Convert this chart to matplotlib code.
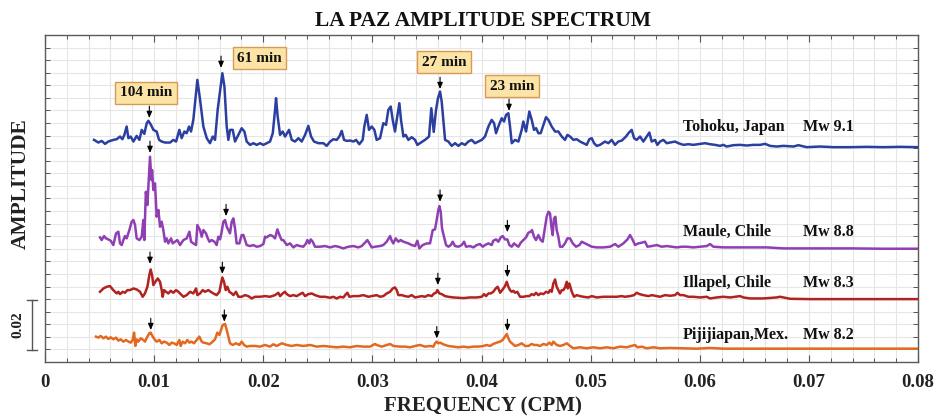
import numpy as np
import matplotlib
matplotlib.use("Agg")
import matplotlib.pyplot as plt
from matplotlib.transforms import blended_transform_factory

plt.rcParams['font.family'] = ['Liberation Serif', 'DejaVu Serif']
plt.rcParams['font.weight'] = 'bold'

# ---------------- data (frequency in units of 0.001 CPM, amplitude in units of 0.001) -------------
tohoku_freq = [4.49, 4.89, 5.19, 5.50, 5.80, 6.26, 6.57, 6.87, 7.09, 7.27, 7.48, 7.64, 7.85, 8.10, 8.40, 8.65, 8.86, 9.10, 9.32, 9.47, 9.71, 9.93, 10.23, 10.45, 10.69, 11.00, 11.46, 11.76, 12.01, 12.31, 12.52, 12.77, 12.98, 13.20, 13.38, 13.59, 13.84, 13.96, 14.21, 14.51, 14.82, 15.12, 15.37, 15.58, 15.82, 16.13, 16.25, 16.44, 16.65, 16.80, 16.96, 17.20, 17.41, 17.72, 18.02, 18.27, 18.48, 18.79, 19.09, 19.40, 19.70, 20.01, 20.32, 20.62, 20.87, 21.08, 21.17, 21.32, 21.54, 21.78, 22.00, 22.36, 22.61, 22.91, 23.22, 23.52, 23.83, 24.13, 24.38, 24.65, 25.05, 25.51, 25.81, 26.12, 26.42, 26.73, 26.97, 27.19, 27.40, 27.64, 27.95, 28.26, 28.50, 28.80, 29.11, 29.26, 29.48, 29.69, 29.94, 30.18, 30.39, 30.70, 31.00, 31.25, 31.46, 31.68, 31.86, 32.07, 32.23, 32.47, 32.62, 32.84, 33.05, 33.30, 33.60, 33.91, 34.12, 34.36, 34.82, 35.19, 35.40, 35.62, 35.83, 36.01, 36.20, 36.35, 36.50, 36.66, 36.96, 37.27, 37.57, 37.88, 38.18, 38.49, 38.79, 39.10, 39.40, 39.71, 40.02, 40.32, 40.63, 40.93, 41.15, 41.33, 41.54, 41.85, 42.06, 42.25, 42.46, 42.61, 42.77, 43.07, 43.38, 43.68, 43.83, 44.08, 44.38, 44.60, 44.81, 45.00, 45.21, 45.42, 45.67, 45.91, 46.13, 46.43, 46.74, 47.04, 47.35, 47.65, 47.87, 48.11, 48.42, 48.72, 49.03, 49.33, 49.64, 49.88, 50.10, 50.31, 50.56, 50.86, 51.32, 51.62, 51.93, 52.23, 52.54, 52.85, 53.24, 53.46, 53.76, 53.98, 54.22, 54.53, 54.83, 55.14, 55.38, 55.59, 55.90, 56.11, 56.36, 56.66, 56.97, 57.27, 57.73, 58.04, 58.50, 58.95, 59.41, 60.02, 60.48, 60.94, 61.40, 61.86, 62.16, 62.47, 63.08, 63.69, 64.30, 64.91, 65.52, 65.98, 66.44, 67.05, 67.66, 68.58, 69.04, 69.80, 71.02, 72.24, 73.77, 75.30, 76.82, 78.35, 80.00]
tohoku_amp = [2.90, 1.84, 2.50, 1.31, 2.24, 2.90, 3.17, 4.23, 3.17, 4.89, 8.20, 3.57, 4.23, 2.24, 4.49, 2.90, 6.88, 5.29, 9.53, 10.46, 8.87, 6.88, 6.22, 2.90, 2.24, 1.84, 1.84, 2.90, 2.24, 6.88, 3.57, 6.22, 5.55, 8.20, 6.22, 10.85, 21.46, 26.76, 18.81, 8.20, 3.57, 1.58, 4.23, 2.90, 14.83, 25.43, 29.41, 24.11, 8.20, 2.90, 6.88, 6.88, 2.24, 4.89, 7.54, 6.22, 2.24, 0.91, 1.58, 0.91, 1.58, 0.91, 1.58, 2.24, 5.55, 14.83, 19.47, 12.18, 4.89, 6.22, 4.23, 6.88, 2.90, 2.24, 3.57, 2.24, 4.89, 8.47, 4.23, 2.24, 1.58, 1.58, 0.52, 2.20, 3.17, 2.90, 4.23, 6.48, 2.90, 2.50, 2.64, 2.24, 2.90, 1.18, 2.90, 8.20, 12.84, 6.88, 8.20, 6.88, 2.90, 3.57, 9.53, 8.87, 14.83, 16.16, 10.85, 6.22, 10.85, 17.48, 10.85, 4.23, 4.89, 2.90, 3.96, 2.90, 0.91, 1.58, 2.90, 4.23, 15.49, 6.08, 14.83, 19.47, 22.12, 18.14, 10.85, 2.90, 2.24, 0.52, 1.58, 0.52, 1.58, 0.91, 2.24, 2.90, 1.58, 2.24, 2.90, 4.23, 8.20, 10.85, 9.53, 5.55, 8.20, 11.52, 10.19, 12.84, 13.50, 8.20, 1.58, 2.90, 2.24, 6.88, 10.19, 6.22, 14.17, 10.85, 6.88, 7.54, 5.55, 5.55, 8.87, 11.92, 10.85, 8.20, 6.22, 6.22, 4.23, 2.90, 4.89, 4.23, 2.91, 3.17, 2.24, 1.58, 0.92, 3.17, 3.57, 1.58, 0.52, 0.92, 2.24, 1.58, 2.90, 0.92, 2.24, 2.64, 4.23, 5.56, 6.88, 3.57, 2.90, 4.23, 2.24, 4.23, 5.82, 2.24, 2.90, 0.92, 2.24, 2.90, 1.58, 1.85, 2.24, 1.58, 0.92, 1.18, 0.92, 1.32, 1.58, 1.18, 0.92, 0.52, 0.92, 0.26, 0.79, 0.92, 0.66, 0.92, 0.92, 1.32, 0.52, 0.26, 0.52, 0.26, 0.79, 0.00, 0.26, 0.00, 0.00, 0.13, 0.00, 0.13, 0.00]

maule_freq = [5.04, 5.19, 5.41, 5.59, 5.80, 6.02, 6.26, 6.51, 6.72, 6.87, 7.03, 7.18, 7.33, 7.48, 7.73, 7.94, 8.10, 8.25, 8.40, 8.65, 8.86, 9.01, 9.10, 9.24, 9.38, 9.50, 9.62, 9.75, 9.81, 9.93, 10.08, 10.23, 10.39, 10.54, 10.69, 10.84, 11.00, 11.15, 11.30, 11.55, 11.70, 11.91, 12.13, 12.37, 12.68, 12.98, 13.23, 13.38, 13.59, 13.84, 13.96, 14.20, 14.36, 14.51, 14.75, 14.88, 15.06, 15.27, 15.52, 15.73, 15.88, 16.04, 16.19, 16.34, 16.50, 16.65, 16.80, 16.95, 17.11, 17.26, 17.41, 17.56, 17.81, 18.02, 18.18, 18.33, 18.48, 18.79, 19.09, 19.40, 19.70, 20.01, 20.16, 20.31, 20.62, 20.86, 21.08, 21.29, 21.54, 21.69, 21.84, 22.15, 22.45, 22.76, 23.06, 23.37, 23.67, 23.92, 24.04, 24.22, 24.35, 24.53, 24.74, 25.20, 25.66, 26.12, 26.58, 26.88, 27.34, 27.80, 28.26, 28.71, 29.02, 29.32, 29.54, 29.72, 29.94, 30.24, 30.70, 31.00, 31.31, 31.62, 31.77, 31.92, 32.13, 32.38, 32.59, 32.84, 33.30, 33.60, 33.91, 34.12, 34.30, 34.61, 34.98, 35.28, 35.53, 35.74, 35.89, 36.04, 36.14, 36.26, 36.38, 36.56, 36.75, 36.96, 37.18, 37.36, 37.57, 37.88, 38.18, 38.40, 38.58, 38.95, 39.25, 39.56, 39.86, 40.11, 40.32, 40.63, 40.93, 41.08, 41.33, 41.54, 41.76, 41.94, 42.15, 42.37, 42.55, 42.77, 42.98, 43.16, 43.38, 43.59, 43.83, 44.08, 44.29, 44.51, 44.63, 44.81, 44.99, 45.21, 45.42, 45.61, 45.82, 45.97, 46.13, 46.28, 46.40, 46.52, 46.64, 46.77, 46.89, 47.04, 47.19, 47.41, 47.65, 47.87, 48.11, 48.36, 48.66, 48.97, 49.18, 49.49, 49.79, 50.10, 50.56, 51.17, 51.78, 52.24, 52.54, 53.00, 53.37, 53.61, 53.86, 54.07, 54.37, 54.68, 54.99, 55.20, 55.60, 56.06, 56.51, 56.97, 57.43, 57.89, 58.35, 58.80, 59.41, 60.03, 60.64, 60.94, 61.25, 62.16, 63.39, 64.61, 66.14, 67.66, 69.50, 71.33, 73.77, 76.83, 80.00]
maule_amp = [4.64, 3.58, 5.17, 4.24, 3.84, 3.31, 1.59, 6.23, 6.89, 2.25, 1.59, 3.58, 5.17, 4.24, 7.55, 10.87, 11.53, 9.54, 4.24, 3.58, 4.90, 11.53, 3.58, 22.79, 17.49, 26.77, 36.71, 27.43, 31.41, 23.46, 26.11, 12.85, 15.51, 8.88, 10.87, 7.55, 2.92, 4.24, 2.25, 4.24, 2.25, 2.92, 3.58, 1.59, 3.58, 4.24, 6.89, 2.92, 2.25, 1.59, 9.54, 7.55, 4.90, 7.55, 6.23, 4.64, 2.92, 3.58, 2.92, 1.59, 4.90, 3.84, 6.89, 10.87, 11.53, 8.88, 7.55, 6.23, 10.87, 12.19, 8.22, 2.25, 2.25, 5.57, 5.57, 3.58, 1.59, 1.19, 1.59, 0.93, 1.19, 1.99, 4.90, 4.64, 5.57, 5.17, 4.24, 7.82, 4.90, 3.58, 3.58, 1.59, 2.25, 0.66, 1.59, 1.19, 0.93, 2.25, 3.58, 2.25, 3.84, 2.92, 0.93, 0.93, 1.19, 0.66, 1.19, 0.93, 0.26, 0.93, 1.19, 0.66, 1.19, 2.52, 3.58, 2.25, 0.66, 0.93, 1.19, 1.59, 2.92, 5.17, 3.31, 2.25, 4.24, 2.92, 3.58, 2.92, 2.25, 1.59, 1.19, 3.31, 0.26, 1.59, 2.25, 2.25, 7.55, 7.82, 11.53, 15.50, 17.10, 14.84, 8.22, 4.90, 1.59, 0.93, 1.59, 2.92, 1.19, 0.93, 1.59, 2.92, 0.93, 1.19, 0.66, 1.59, 1.99, 0.93, 1.59, 2.25, 1.59, 3.31, 3.84, 2.92, 4.64, 5.17, 3.84, 3.84, 1.59, 0.93, 2.25, 1.59, 0.93, 2.52, 3.58, 4.64, 6.49, 6.89, 7.55, 4.90, 3.58, 5.57, 3.58, 2.92, 8.88, 12.85, 14.84, 14.18, 8.88, 5.57, 12.19, 12.85, 7.55, 4.90, 0.93, 0.93, 2.25, 4.24, 4.24, 2.25, 0.93, 1.59, 2.92, 2.25, 1.59, 0.93, 0.66, 0.66, 0.93, 1.99, 0.93, 2.25, 3.84, 5.57, 3.58, 1.59, 2.25, 2.52, 2.92, 0.93, 1.19, 1.59, 0.93, 1.19, 0.93, 0.66, 0.93, 0.93, 0.66, 0.93, 1.19, 1.99, 0.93, 0.66, 0.66, 0.66, 0.66, 0.26, 0.26, 0.26, 0.26, 0.13, 0.13]

illapel_freq = [5.04, 5.35, 5.65, 5.96, 6.20, 6.42, 6.57, 6.72, 6.87, 7.12, 7.33, 7.55, 7.79, 8.10, 8.40, 8.71, 8.95, 9.16, 9.38, 9.56, 9.68, 9.81, 9.93, 10.11, 10.33, 10.54, 10.69, 10.78, 10.91, 11.09, 11.30, 11.52, 11.76, 12.00, 12.22, 12.43, 12.68, 12.98, 13.29, 13.59, 13.84, 13.96, 14.20, 14.45, 14.66, 14.97, 15.18, 15.43, 15.73, 15.98, 16.13, 16.25, 16.40, 16.56, 16.71, 16.89, 17.11, 17.26, 17.50, 17.72, 18.02, 18.33, 18.63, 18.94, 19.24, 19.70, 20.16, 20.62, 21.08, 21.38, 21.54, 21.78, 21.99, 22.15, 22.45, 22.76, 23.06, 23.37, 23.61, 23.83, 24.13, 24.44, 24.74, 25.20, 25.66, 26.12, 26.42, 26.73, 27.03, 27.34, 27.58, 27.71, 27.89, 28.26, 28.71, 29.17, 29.63, 29.94, 30.39, 30.70, 31.00, 31.31, 31.62, 31.86, 32.07, 32.23, 32.38, 32.68, 32.99, 33.30, 33.60, 33.91, 34.21, 34.52, 34.82, 35.13, 35.43, 35.65, 35.83, 35.95, 36.14, 36.35, 36.66, 36.96, 37.42, 37.88, 38.34, 38.95, 39.56, 40.02, 40.23, 40.41, 40.63, 40.84, 41.08, 41.30, 41.48, 41.70, 41.94, 42.15, 42.31, 42.46, 42.61, 42.77, 42.92, 43.07, 43.28, 43.53, 43.83, 44.14, 44.38, 44.60, 44.81, 44.99, 45.21, 45.42, 45.67, 45.91, 46.13, 46.28, 46.43, 46.58, 46.74, 46.89, 47.04, 47.19, 47.35, 47.50, 47.65, 47.81, 47.90, 48.05, 48.27, 48.48, 48.72, 49.03, 49.33, 49.79, 50.10, 50.56, 51.17, 51.78, 52.39, 52.85, 53.15, 53.61, 53.98, 54.22, 54.47, 54.83, 55.29, 55.60, 56.06, 56.36, 56.82, 57.28, 57.74, 57.95, 58.19, 58.50, 58.96, 59.41, 60.03, 60.64, 60.94, 61.55, 62.16, 62.78, 63.23, 63.69, 64.00, 64.61, 65.83, 67.05, 67.36, 68.27, 70.11, 71.94, 73.77, 76.83, 80.00]
illapel_amp = [2.91, 4.24, 4.90, 5.17, 3.84, 2.91, 2.25, 2.91, 1.99, 2.91, 2.52, 3.58, 3.58, 4.24, 3.84, 2.91, 0.93, 2.25, 4.90, 9.54, 11.79, 9.54, 5.57, 6.89, 8.22, 6.89, 3.58, 0.93, 3.58, 2.91, 2.25, 3.31, 2.52, 3.58, 2.91, 1.99, 0.93, 1.59, 2.91, 2.25, 4.24, 1.59, 2.25, 3.58, 2.91, 3.58, 2.91, 2.25, 1.59, 2.91, 6.23, 8.61, 6.89, 3.58, 4.90, 2.91, 2.25, 1.59, 2.91, 0.93, 0.93, 1.59, 1.19, 0.26, 0.93, 0.93, 1.19, 0.93, 1.59, 2.52, 1.19, 2.25, 2.91, 1.99, 1.19, 1.59, 1.19, 1.99, 2.52, 1.19, 1.99, 2.25, 1.59, 0.93, 0.93, 0.53, 0.93, 0.26, 0.93, 0.66, 1.99, 2.52, 0.93, 1.19, 1.19, 1.59, 0.93, 1.19, 1.59, 0.93, 1.19, 2.25, 2.91, 4.24, 4.64, 3.58, 1.59, 1.59, 1.19, 0.93, 1.59, 0.66, 0.93, 1.19, 0.93, 1.59, 1.19, 2.25, 2.52, 3.58, 2.25, 1.99, 1.19, 0.93, 0.66, 0.53, 0.40, 0.66, 0.66, 0.93, 1.99, 1.19, 2.25, 2.25, 2.91, 4.24, 4.90, 2.52, 3.84, 5.17, 6.89, 4.90, 3.58, 2.91, 3.31, 2.52, 2.91, 0.93, 0.93, 1.19, 1.19, 1.99, 1.59, 2.52, 1.59, 2.25, 1.99, 2.91, 2.52, 3.58, 2.91, 6.23, 7.82, 4.90, 3.58, 2.25, 3.58, 3.58, 4.64, 6.89, 4.24, 6.23, 2.92, 0.93, 1.59, 1.19, 0.93, 0.66, 1.19, 0.66, 0.93, 0.93, 0.93, 1.19, 0.93, 1.19, 1.59, 2.52, 1.99, 1.59, 1.19, 1.59, 1.19, 0.93, 1.59, 1.33, 1.59, 2.52, 1.59, 1.59, 0.93, 0.93, 0.66, 0.93, 0.27, 0.66, 0.93, 0.66, 0.93, 1.19, 0.66, 0.27, 0.27, 0.66, 0.93, 0.13, 0.00, 0.00, 0.00, 0.00, 0.00]

pij_freq = [4.67, 4.89, 5.10, 5.35, 5.59, 5.80, 6.02, 6.26, 6.51, 6.72, 6.93, 7.18, 7.42, 7.64, 7.85, 8.03, 8.16, 8.28, 8.40, 8.55, 8.77, 9.01, 9.16, 9.38, 9.56, 9.68, 9.87, 10.08, 10.23, 10.48, 10.69, 10.91, 11.15, 11.39, 11.61, 11.82, 12.07, 12.31, 12.43, 12.62, 12.83, 13.04, 13.23, 13.44, 13.65, 13.90, 14.14, 14.36, 14.51, 14.82, 15.06, 15.27, 15.58, 15.79, 15.98, 16.13, 16.28, 16.50, 16.65, 16.80, 16.95, 17.20, 17.50, 17.81, 18.02, 18.24, 18.48, 18.79, 19.25, 19.70, 20.16, 20.62, 20.92, 21.23, 21.69, 22.15, 22.60, 23.06, 23.67, 24.29, 24.90, 25.51, 26.12, 26.73, 27.34, 27.95, 28.56, 29.17, 29.78, 30.24, 30.39, 30.85, 31.31, 31.62, 31.92, 32.53, 32.99, 33.45, 33.91, 34.36, 34.82, 35.28, 35.59, 35.74, 35.89, 36.05, 36.20, 36.44, 36.66, 36.96, 37.42, 37.88, 38.34, 38.79, 39.25, 39.71, 40.17, 40.47, 40.78, 41.08, 41.39, 41.70, 41.94, 42.15, 42.31, 42.46, 42.61, 42.86, 43.07, 43.38, 43.68, 43.99, 44.29, 44.60, 44.81, 45.06, 45.36, 45.67, 45.97, 46.22, 46.43, 46.58, 46.74, 46.89, 47.19, 47.50, 47.81, 48.11, 48.42, 49.03, 49.64, 50.25, 50.86, 51.47, 52.08, 52.69, 53.31, 53.76, 54.07, 54.28, 54.68, 55.14, 55.75, 56.36, 57.28, 58.50, 59.72, 60.94, 62.16, 63.39, 64.61, 66.14, 67.66, 69.50, 71.33, 73.77, 76.83, 80.00]
pij_amp = [4.78, 4.39, 5.05, 4.12, 4.78, 3.86, 4.52, 3.72, 4.39, 3.19, 3.72, 2.80, 3.46, 2.80, 2.40, 3.46, 6.37, 1.07, 3.72, 2.80, 4.12, 3.46, 2.80, 4.78, 6.11, 6.37, 4.78, 3.46, 2.80, 3.46, 2.13, 2.80, 2.40, 1.47, 2.40, 2.13, 1.47, 3.46, 1.07, 2.80, 2.13, 3.46, 2.40, 2.80, 2.13, 3.46, 4.78, 2.80, 2.40, 2.13, 1.74, 2.40, 3.72, 6.37, 5.45, 7.43, 9.42, 9.82, 7.43, 4.78, 2.13, 1.47, 2.13, 1.47, 2.80, 1.47, 0.81, 1.07, 1.07, 0.81, 1.47, 0.81, 1.74, 1.07, 2.13, 1.47, 1.07, 1.47, 1.07, 1.47, 0.81, 1.07, 0.81, 0.54, 0.81, 0.54, 1.07, 0.81, 0.81, 1.87, 1.47, 0.81, 1.47, 1.87, 1.07, 0.81, 0.81, 0.54, 1.07, 1.47, 0.81, 1.07, 0.81, 2.13, 2.80, 2.13, 2.40, 1.87, 1.47, 1.07, 0.81, 0.54, 0.81, 0.54, 0.81, 0.81, 1.07, 1.47, 1.07, 1.87, 2.40, 2.80, 3.46, 4.78, 5.84, 4.12, 2.80, 1.87, 1.07, 1.47, 2.13, 1.07, 1.07, 1.87, 1.47, 1.47, 1.07, 1.87, 1.47, 2.40, 1.47, 2.80, 2.13, 1.47, 1.07, 1.47, 2.13, 1.07, 0.15, 0.55, 0.15, 0.55, 0.15, 0.55, 0.15, 0.81, 0.55, 1.07, 1.47, 0.55, 0.81, 0.15, 0.55, 0.15, 0.28, 0.15, 0.00, 0.28, 0.00, 0.00, 0.00, 0.00, 0.00, 0.00, 0.00, 0.00, 0.00, 0.00]

series_names = ['Tohoku, Japan', 'Maule, Chile', 'Illapel, Chile', 'Pijijiapan,Mex.']
series_mw = ['Mw 9.1', 'Mw 8.8', 'Mw 8.3', 'Mw 8.2']
series_offset = [0.0854, 0.0449, 0.0250, 0.0053]
series_colors = ['#2a3fa0', '#8f3fb3', '#b02320', '#e2691f']
label_y = [0.0934, 0.0516, 0.0313, 0.0107]

# marked periods (arrows) per series: frequency (CPM) and arrow tip level
arrow_freq = [[0.00956, 0.01613, 0.0362, 0.04252],
              [0.00962, 0.01659, 0.0362, 0.04237],
              [0.00962, 0.01625, 0.0360, 0.04237],
              [0.00969, 0.01643, 0.0359, 0.04237]]
arrow_tip = [[0.0970, 0.1169, 0.1085, 0.0998],
             [0.0831, 0.0580, 0.0637, 0.0516],
             [0.0390, 0.0350, 0.0306, 0.0337],
             [0.0127, 0.0160, 0.0094, 0.0123]]

period_labels = ['104 min', '61 min', '27 min', '23 min']
period_box_f = [0.00926, 0.01966, 0.03656, 0.0428]
period_box_y = [0.1070, 0.1207, 0.1191, 0.1097]

xtick_vals = [0, 0.01, 0.02, 0.03, 0.04, 0.05, 0.06, 0.07, 0.08]
xtick_labels = ['0', '0.01', '0.02', '0.03', '0.04', '0.05', '0.06', '0.07', '0.08']

freqs = [tohoku_freq, maule_freq, illapel_freq, pij_freq]
amps = [tohoku_amp, maule_amp, illapel_amp, pij_amp]
for f, a, n in zip(freqs, amps, series_names):
    assert len(f) == len(a), (n, len(f), len(a))

# ---------------- figure -------------
fig = plt.figure(figsize=(9.36, 4.17), dpi=100)
ax = fig.add_axes([0.0481, 0.1319, 0.9327, 0.7842])

for f, a, off, c in zip(freqs, amps, series_offset, series_colors):
    ax.plot(np.array(f) * 1e-3, np.array(a) * 1e-3 + off, color=c, lw=1.8,
            solid_joinstyle='round', zorder=3)

ax.set_xlim(0, 0.08)
ax.set_ylim(0, 0.13)
ax.set_xticks(xtick_vals)
ax.set_xticklabels(xtick_labels, fontsize=13.5, fontweight='bold', color='#222222')
ax.set_xticks(np.arange(0, 0.0801, 0.002), minor=True)
ax.set_yticks(np.arange(0, 0.1301, 0.005))
ax.set_yticklabels([])
ax.grid(which='both', axis='x', color='#e6e6e6', lw=0.8, zorder=0)
ax.grid(which='major', axis='y', color='#e6e6e6', lw=0.8, zorder=0)
ax.tick_params(axis='x', which='major', direction='in', length=5, width=0.8,
               color='#555555', top=True, pad=9)
ax.tick_params(axis='x', which='minor', direction='in', length=3, width=0.7,
               color='#555555', top=True)
ax.tick_params(axis='y', which='major', direction='in', length=3.5, width=0.7,
               color='#555555', right=True, left=True)
for s in ax.spines.values():
    s.set_color('#5a5a5a')
    s.set_linewidth(1.0)

# labels for each series
for name, mw, y in zip(series_names, series_mw, label_y):
    ax.text(0.05847, y, name, fontsize=11.5, fontweight='bold', ha='left', va='center',
            color='#111111', zorder=5)
    ax.text(0.06946, y, mw, fontsize=11.5, fontweight='bold', ha='left', va='center',
            color='#111111', zorder=5)

# arrows
for fl, tl in zip(arrow_freq, arrow_tip):
    for f, t in zip(fl, tl):
        ax.annotate('', xy=(f, t), xytext=(0, 8.5), textcoords='offset points',
                    arrowprops=dict(arrowstyle='-|>,head_length=0.38,head_width=0.16',
                                    color='black', lw=0.8, shrinkA=0, shrinkB=0),
                    zorder=6)

# period boxes
for lab, f, y in zip(period_labels, period_box_f, period_box_y):
    ax.text(f, y, lab, fontsize=11, fontweight='bold', ha='center', va='center',
            color='#111111', zorder=7,
            bbox=dict(boxstyle='square,pad=0.3', fc='#fbe4a6', ec='#d99a58', lw=1.0))

# scale bar
trans = blended_transform_factory(ax.transAxes, ax.transData)
sb_y0 = 0.0047
sb_len = 0.02
ax.plot([-0.0149, -0.0149], [sb_y0, sb_y0 + sb_len], color='#555555', lw=1.0,
        transform=trans, clip_on=False)
for yy in (sb_y0, sb_y0 + sb_len):
    ax.plot([-0.0203, -0.0095], [yy, yy], color='#555555', lw=1.0,
            transform=trans, clip_on=False)
ax.text(-0.0306, sb_y0 + sb_len / 2, '0.02', rotation=90, fontsize=11, fontweight='bold',
        ha='center', va='center', transform=trans, color='#222222')

# titles
fig.text(0.5155, 0.9504, 'LA PAZ AMPLITUDE SPECTRUM', fontsize=15.5, fontweight='bold',
         ha='center', va='center', color='#111111')
fig.text(0.5164, 0.0247, 'FREQUENCY (CPM)', fontsize=15, fontweight='bold',
         ha='center', va='center', color='#222222')
fig.text(0.0219, 0.5600, 'AMPLITUDE', fontsize=15.5, fontweight='bold', rotation=90,
         ha='center', va='center', color='#222222')

fig.savefig('out.png', dpi=100, facecolor='white')
